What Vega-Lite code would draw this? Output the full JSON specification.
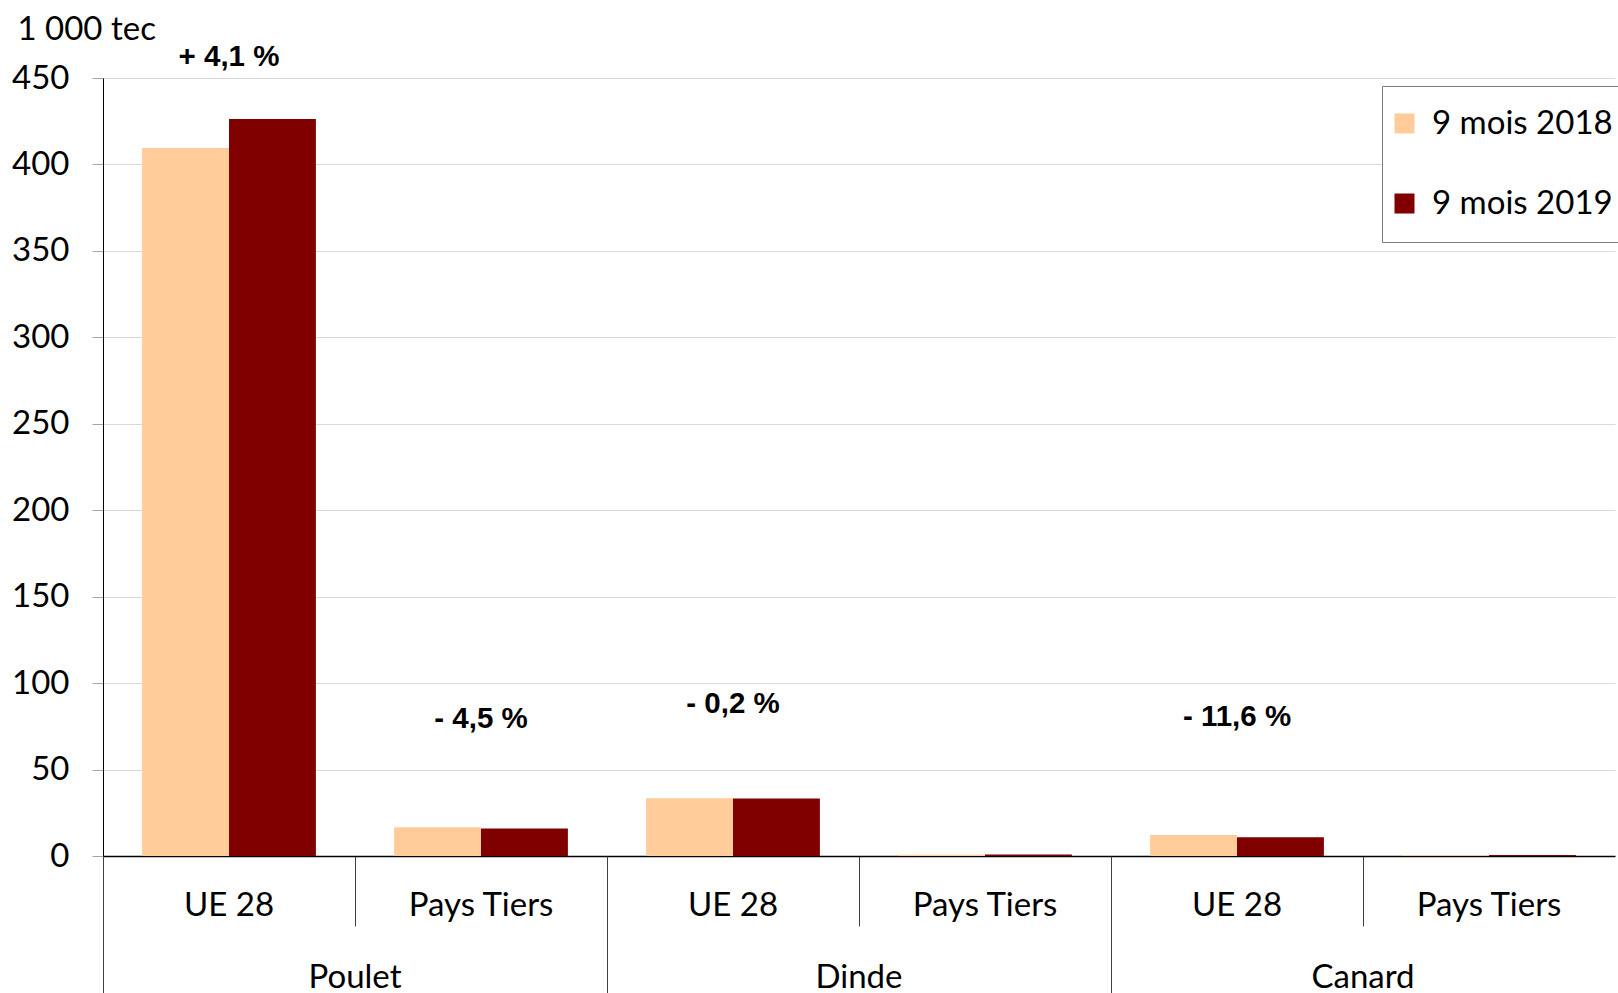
{
  "$schema": "https://vega.github.io/schema/vega-lite/v6.json",
  "width": 1512,
  "height": 778,
  "autosize": {"type": "none"},
  "padding": {"left": 103, "top": 78, "right": 3, "bottom": 137},
  "background": "white",
  "config": {"view": {"stroke": null}, "font": "Lato"},
  "datasets": {
    "bars": [
      {"espece": "Poulet", "dest": "UE 28", "cat": "Poulet|UE 28", "periode": "9 mois 2018", "valeur": 409.5},
      {"espece": "Poulet", "dest": "UE 28", "cat": "Poulet|UE 28", "periode": "9 mois 2019", "valeur": 426.3},
      {"espece": "Poulet", "dest": "Pays Tiers", "cat": "Poulet|Pays Tiers", "periode": "9 mois 2018", "valeur": 16.6},
      {"espece": "Poulet", "dest": "Pays Tiers", "cat": "Poulet|Pays Tiers", "periode": "9 mois 2019", "valeur": 15.85},
      {"espece": "Dinde", "dest": "UE 28", "cat": "Dinde|UE 28", "periode": "9 mois 2018", "valeur": 33.4},
      {"espece": "Dinde", "dest": "UE 28", "cat": "Dinde|UE 28", "periode": "9 mois 2019", "valeur": 33.33},
      {"espece": "Dinde", "dest": "Pays Tiers", "cat": "Dinde|Pays Tiers", "periode": "9 mois 2018", "valeur": 0.7},
      {"espece": "Dinde", "dest": "Pays Tiers", "cat": "Dinde|Pays Tiers", "periode": "9 mois 2019", "valeur": 0.8},
      {"espece": "Canard", "dest": "UE 28", "cat": "Canard|UE 28", "periode": "9 mois 2018", "valeur": 12.2},
      {"espece": "Canard", "dest": "UE 28", "cat": "Canard|UE 28", "periode": "9 mois 2019", "valeur": 10.8},
      {"espece": "Canard", "dest": "Pays Tiers", "cat": "Canard|Pays Tiers", "periode": "9 mois 2018", "valeur": 0.5},
      {"espece": "Canard", "dest": "Pays Tiers", "cat": "Canard|Pays Tiers", "periode": "9 mois 2019", "valeur": 0.6}
    ],
    "labels": [
      {"cat": "Poulet|UE 28", "y": 462.1, "label": "+ 4,1 %"},
      {"cat": "Poulet|Pays Tiers", "y": 79.4, "label": "- 4,5 %"},
      {"cat": "Dinde|UE 28", "y": 88.2, "label": "- 0,2 %"},
      {"cat": "Canard|UE 28", "y": 80.5, "label": "- 11,6 %"}
    ],
    "groups": [
      {"espece": "Poulet"},
      {"espece": "Dinde"},
      {"espece": "Canard"}
    ]
  },
  "layer": [
    {
      "layer": [
        {
          "data": {"name": "bars"},
          "mark": {"type": "bar"},
          "encoding": {
            "x": {
              "field": "cat", "type": "nominal", "sort": null,
              "scale": {"paddingInner": 0, "paddingOuter": 0},
              "axis": {
                "title": null, "labelExpr": "split(datum.value,'|')[1]", "labelAngle": 0,
                "bandPosition": 0, "tickSize": 70, "tickColor": "#404040", "tickWidth": 1,
                "domainColor": "black", "domainWidth": 1.5, "labelPadding": -21, "labelBaseline": "middle",
                "labelFontSize": 33, "labelColor": "black", "grid": false
              }
            },
            "xOffset": {
              "field": "periode", "type": "nominal",
              "scale": {"paddingInner": 0, "paddingOuter": 0.45}
            },
            "y": {
              "field": "valeur", "type": "quantitative",
              "scale": {"domain": [0, 450], "nice": false},
              "axis": {
                "values": [0, 50, 100, 150, 200, 250, 300, 350, 400, 450],
                "title": "1 000 tec", "titleAngle": 0, "titleAlign": "left", "titleBaseline": "middle",
                "titleX": -86, "titleY": -49, "titleFontSize": 33, "titleFontWeight": "normal", "titleColor": "black",
                "labelFontSize": 33, "labelColor": "black", "labelPadding": 23,
                "tickSize": 11, "tickColor": "#a6a6a6", "domainColor": "black", "gridColor": "#d9d9d9"
              }
            },
            "color": {
              "field": "periode", "type": "nominal",
              "scale": {"range": ["#FFCC99", "#800000"]},
              "legend": {
                "orient": "none", "legendX": 1279, "legendY": 8, "title": null,
                "labelFontSize": 33, "labelColor": "black", "labelLimit": 400,
                "symbolType": "square", "symbolSize": 400, "symbolStrokeWidth": 0, "symbolOffset": -15, "labelOffset": 11,
                "padding": 21, "rowPadding": 46, "strokeColor": "#7f7f7f", "fillColor": "white"
              }
            }
          }
        },
        {
          "data": {"name": "labels"},
          "mark": {"type": "text", "font": "Liberation Sans", "fontWeight": "bold", "fontSize": 29.5, "baseline": "middle", "color": "black"},
          "encoding": {
            "x": {"field": "cat", "type": "nominal", "sort": null},
            "y": {"field": "y", "type": "quantitative"},
            "text": {"field": "label"}
          }
        }
      ]
    },
    {
      "data": {"name": "groups"},
      "mark": {"type": "point", "opacity": 0, "size": 0},
      "encoding": {
        "x": {
          "field": "espece", "type": "nominal", "sort": null,
          "scale": {"type": "band", "paddingInner": 0, "paddingOuter": 0},
          "axis": {
            "orient": "bottom", "title": null, "labelAngle": 0, "bandPosition": 0,
            "tickSize": 140, "tickColor": "#404040", "tickWidth": 1, "domain": false,
            "labelPadding": -19, "labelBaseline": "middle", "labelFontSize": 33, "labelColor": "black", "grid": false
          }
        }
      }
    }
  ],
  "resolve": {"scale": {"x": "independent"}, "axis": {"x": "independent"}}
}
